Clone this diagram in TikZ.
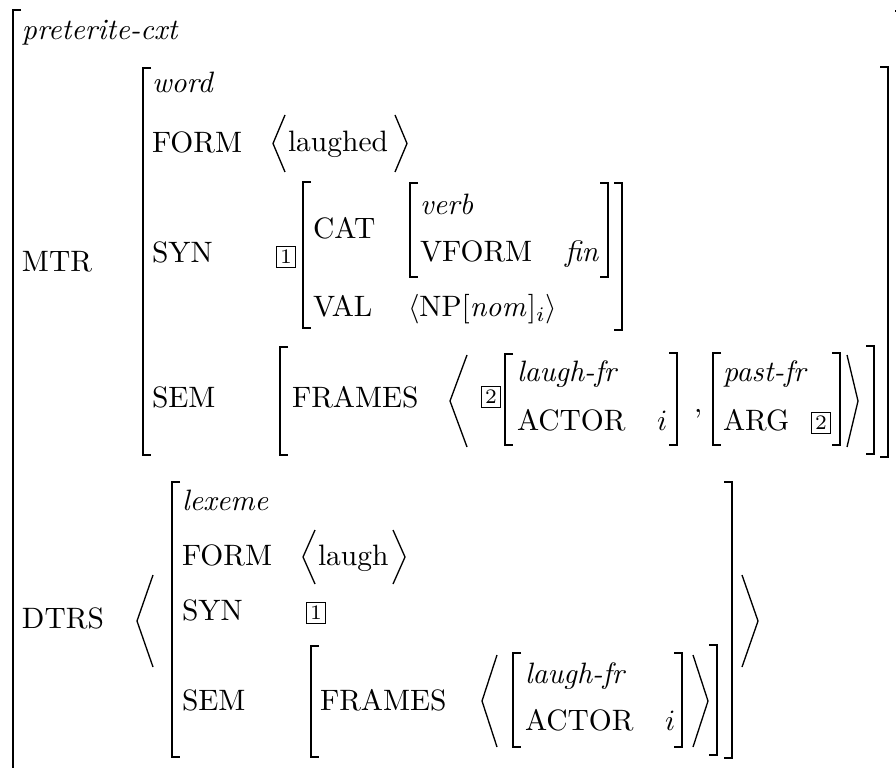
\documentclass[tikz,border=0pt]{standalone}
\usepackage{amsmath}
\tikzset{
  brk/.style={line width=0.6pt, line cap=butt, line join=miter},
  ang/.style={line width=0.45pt, line join=miter},
  lbl/.style={anchor=base west, inner sep=0pt, outer sep=0pt},
  tagbox/.style={draw, line width=0.45pt, inner sep=0pt, minimum width=6.4pt, minimum height=7pt, font=\scriptsize},
}
\newcommand{\LB}[3]{\draw[brk] ({#1+8},#2) -- (#1,#2) -- (#1,#3) -- ({#1+8},#3);}
\newcommand{\RB}[3]{\draw[brk] ({#1-8},#2) -- (#1,#2) -- (#1,#3) -- ({#1-8},#3);}
\newcommand{\ANG}[4]{\draw[ang] (#1,#2) -- (#3,{(#2+#4)/2}) -- (#1,#4);}
\begin{document}
\begin{tikzpicture}[x=0.339pt,y=-0.339pt]
\useasboundingbox (0,0) rectangle (896,768);
\clip (0,0) rectangle (896,768);
% ---- labels: MTR part
\node[lbl] (pcxt) at (22,40) {\textit{preterite-cxt}};
\node[lbl] (mtr) at (22,272) {MTR};
\node[lbl] (word) at (152,93) {\textit{word}};
\node[lbl] (form1) at (152,153) {FORM};
\node[lbl] (laughed) at (288,152) {laughed};
\node[lbl] (syn1) at (152,263) {SYN};
\node[tagbox] (tag1a) at (286,257) {1};
\node[lbl] (cat) at (313,239) {CAT};
\node[lbl] (verb) at (420,215) {\textit{verb}};
\node[lbl] (vform) at (420,262) {VFORM};
\node[lbl] (fin) at (565,262) {\textit{fin}};
\node[lbl] (val) at (313,317) {VAL};
\node[lbl] (np) at (408,317) {$\langle\mathrm{NP}[\mathit{nom}]_i\rangle$};
\node[lbl] (sem1) at (152,407) {SEM};
\node[lbl] (frames1) at (292,407) {FRAMES};
\node[tagbox] (tag2a) at (491,397) {2};
\node[lbl] (lfr1) at (517,381) {\textit{laugh-fr}};
\node[lbl] (actor1) at (517,430) {ACTOR};
\node[lbl] (i1) at (657,430) {$i$};
\node[lbl] (comma) at (694,412) {,};
\node[lbl] (pfr) at (723,381) {\textit{past-fr}};
\node[lbl] (arg) at (723,430) {ARG};
\node[tagbox] (tag2b) at (821,423) {2};
% ---- labels: DTRS part
\node[lbl] (dtrs) at (22,628) {DTRS};
\node[lbl] (lex) at (182,510) {\textit{lexeme}};
\node[lbl] (form2) at (182,565) {FORM};
\node[lbl] (laugh) at (318,565) {laugh};
\node[lbl] (syn2) at (182,620) {SYN};
\node[tagbox] (tag1b) at (316,613) {1};
\node[lbl] (sem2) at (182,710) {SEM};
\node[lbl] (frames2) at (320,710) {FRAMES};
\node[lbl] (lfr2) at (525,683) {\textit{laugh-fr}};
\node[lbl] (actor2) at (525,730) {ACTOR};
\node[lbl] (i2) at (665,730) {$i$};
% ---- brackets
\LB{13}{10}{790}
\RB{903}{11}{790}
\LB{143}{68}{455}
\RB{888}{67}{457}
\LB{303}{182}{328}
\RB{622}{183}{330}
\LB{410}{183}{277}
\RB{608}{183}{277}
\LB{280}{347}{455}
\RB{874}{346}{454}
\LB{505}{354}{445}
\RB{677}{353}{445}
\LB{713}{353}{445}
\RB{840}{353}{445}
\LB{172}{482}{757}
\RB{732}{482}{758}
\LB{311}{646}{757}
\RB{717}{645}{755}
\LB{513}{653}{747}
\RB{682}{653}{747}
% ---- angle brackets
\ANG{285}{115}{273}{172}
\ANG{395}{115}{407}{172}
\ANG{467}{355}{450}{447}
\ANG{847}{355}{858}{447}
\ANG{315}{530}{303}{584}
\ANG{393}{530}{405}{584}
\ANG{153}{575}{137}{667}
\ANG{742}{575}{758}{667}
\ANG{497}{655}{482}{747}
\ANG{693}{655}{708}{747}
\end{tikzpicture}
\end{document}
